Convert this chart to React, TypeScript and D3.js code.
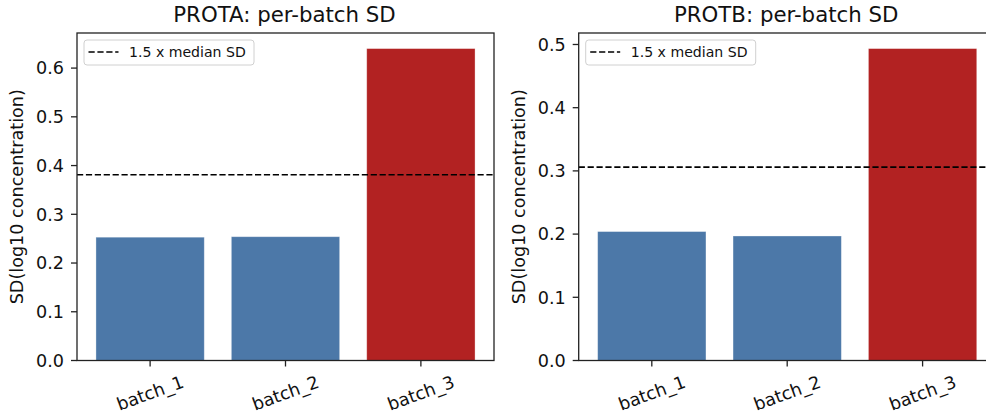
import { useEffect, useRef } from "react";
import * as d3 from "d3";

const batches = ["batch_1", "batch_2", "batch_3"];
const protaSD = [0.253, 0.254, 0.64];
const protbSD = [0.204, 0.197, 0.4935];
const protaTicks = [0, 0.1, 0.2, 0.3, 0.4, 0.5, 0.6];
const protbTicks = [0, 0.1, 0.2, 0.3, 0.4, 0.5];
const panelTitles = ["PROTA: per-batch SD", "PROTB: per-batch SD"];

const BLUE = "#4c78a8";
const RED = "#b22222";
const FONT = "DejaVu Sans, sans-serif";

const App = () => {
  const svgRef = useRef<SVGSVGElement>(null);

  useEffect(() => {
    if (!svgRef.current) return;
    const root = d3.select(svgRef.current);
    root.selectAll("*").remove();

    const top = 33;
    const bottom = 360.5;
    const axW = 417;

    const panels = [
      { left: 77, values: protaSD, ticks: protaTicks, title: panelTitles[0] },
      { left: 578.7, values: protbSD, ticks: protbTicks, title: panelTitles[1] },
    ];

    panels.forEach(({ left, values, ticks, title }) => {
      const right = left + axW;
      const x = d3
        .scaleBand()
        .domain(batches)
        .range([left, right])
        .paddingInner(0.2)
        .paddingOuter(0.14);
      const maxV = d3.max(values) ?? 1;
      const y = d3.scaleLinear().domain([0, maxV * 1.05]).range([bottom, top]);
      const threshold = 1.5 * (d3.median(values) ?? 0);

      const g = root.append("g");

      // bars
      g.selectAll("rect.bar")
        .data(values)
        .join("rect")
        .attr("class", "bar")
        .attr("x", (_, i) => x(batches[i]) ?? 0)
        .attr("y", (d) => y(d))
        .attr("width", x.bandwidth())
        .attr("height", (d) => bottom - y(d))
        .attr("fill", (d) => (d > threshold ? RED : BLUE))
        .attr("stroke", "white")
        .attr("stroke-opacity", 0.4)
        .attr("stroke-width", 0.8);

      // threshold line
      g.append("line")
        .attr("x1", left)
        .attr("x2", right)
        .attr("y1", y(threshold))
        .attr("y2", y(threshold))
        .attr("stroke", "black")
        .attr("stroke-width", 1.6)
        .attr("stroke-dasharray", "6.2,2.7");

      // spines
      g.append("rect")
        .attr("x", left)
        .attr("y", top)
        .attr("width", axW)
        .attr("height", bottom - top)
        .attr("fill", "none")
        .attr("stroke", "#222")
        .attr("stroke-width", 1.3);

      // y ticks
      const yt = g.selectAll("g.ytick").data(ticks).join("g").attr("class", "ytick");
      yt.append("line")
        .attr("x1", left - 6)
        .attr("x2", left)
        .attr("y1", (d) => y(d))
        .attr("y2", (d) => y(d))
        .attr("stroke", "#222")
        .attr("stroke-width", 1.3);
      yt.append("text")
        .attr("x", left - 13)
        .attr("y", (d) => y(d))
        .attr("dy", "0.36em")
        .attr("text-anchor", "end")
        .style("font-family", FONT)
        .style("font-size", "17.6px")
        .attr("fill", "#111")
        .text((d) => d3.format(".1f")(d));

      // x ticks
      const xt = g.selectAll("g.xtick").data(batches).join("g").attr("class", "xtick");
      xt.append("line")
        .attr("x1", (d) => (x(d) ?? 0) + x.bandwidth() / 2)
        .attr("x2", (d) => (x(d) ?? 0) + x.bandwidth() / 2)
        .attr("y1", bottom)
        .attr("y2", bottom + 6)
        .attr("stroke", "#222")
        .attr("stroke-width", 1.3);
      xt.append("text")
        .attr(
          "transform",
          (d) => `translate(${(x(d) ?? 0) + x.bandwidth() / 2},393) rotate(-20)`
        )
        .attr("dy", "0.35em")
        .attr("text-anchor", "middle")
        .style("font-family", FONT)
        .style("font-size", "17.6px")
        .attr("fill", "#111")
        .text((d) => d);

      // y label
      g.append("text")
        .attr("transform", `translate(${left - 54},${(top + bottom) / 2}) rotate(-90)`)
        .attr("text-anchor", "middle")
        .style("font-family", FONT)
        .style("font-size", "17.6px")
        .attr("fill", "#111")
        .text("SD(log10 concentration)");

      // title
      g.append("text")
        .attr("x", left + axW / 2 - 1)
        .attr("y", 22)
        .attr("text-anchor", "middle")
        .style("font-family", FONT)
        .style("font-size", "21.3px")
        .attr("fill", "#111")
        .text(title);

      // legend
      const lg = g.append("g").attr("transform", `translate(${left + 7},${top + 7})`);
      lg.append("rect")
        .attr("width", 170)
        .attr("height", 25)
        .attr("rx", 3)
        .attr("fill", "white")
        .attr("fill-opacity", 0.8)
        .attr("stroke", "#d0d0d0")
        .attr("stroke-width", 1);
      lg.append("line")
        .attr("x1", 4.5)
        .attr("x2", 34.5)
        .attr("y1", 12)
        .attr("y2", 12)
        .attr("stroke", "black")
        .attr("stroke-width", 1.6)
        .attr("stroke-dasharray", "6.2,2.7");
      lg.append("text")
        .attr("x", 45)
        .attr("y", 17)
        .style("font-family", FONT)
        .style("font-size", "14.1px")
        .attr("fill", "#111")
        .text("1.5 x median SD");
    });
  }, []);

  return (
    <div style={{ position: "absolute", left: 0, top: 0, background: "white" }}>
      <svg ref={svgRef} width={986} height={415} style={{ display: "block" }} />
    </div>
  );
};

export default App;
